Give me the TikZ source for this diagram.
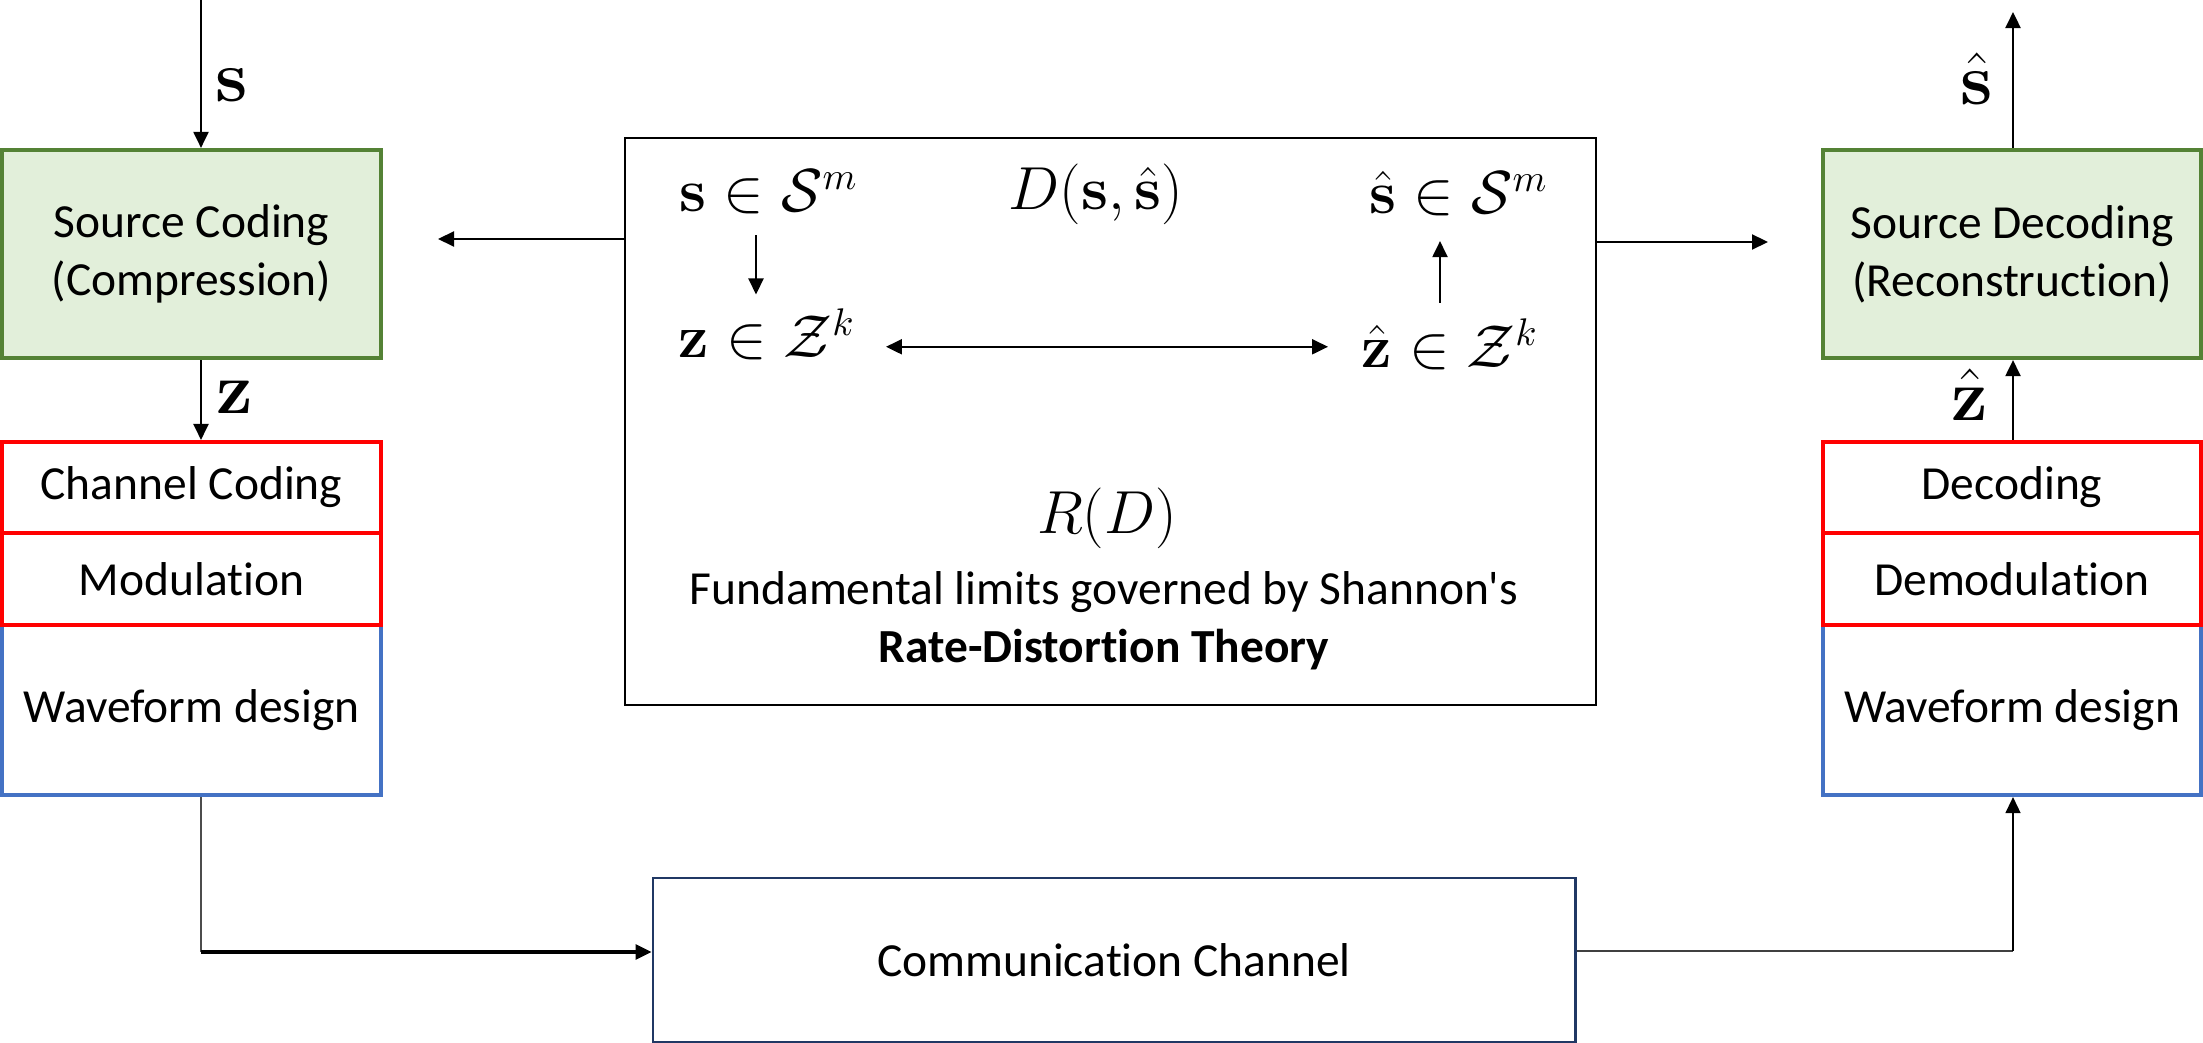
\documentclass[tikz,border=0pt]{standalone}
\usepackage[no-math]{fontspec}
\setmainfont{Carlito}[Ligatures={TeXOff,NoCommon}]
\usetikzlibrary{arrows.meta,calc}
\definecolor{grn}{HTML}{548235}
\definecolor{grnfill}{HTML}{E2EFDA}
\definecolor{redb}{HTML}{FF0000}
\definecolor{blueb}{HTML}{4472C4}
\definecolor{navy}{HTML}{203864}
\newcommand\txtfont{\fontsize{13.5}{16.5}\selectfont}
\begin{document}
\begin{tikzpicture}[x=0.01cm,y=-0.01cm,
  box/.style={draw, line width=1.15pt, inner sep=0pt, align=center, font=\txtfont, minimum width=3.79cm},
  rbox/.style={box, minimum width=3.77cm},
  mth/.style={inner sep=0pt, font=\fontsize{16}{19}\selectfont},
  lbl/.style={inner sep=0pt, font=\fontsize{20}{24}\selectfont},
  arr/.style={line width=0.6pt, -{Triangle[length=0.16cm,width=0.15cm]}},
  darr/.style={line width=0.6pt, {Triangle[length=0.16cm,width=0.15cm]}-{Triangle[length=0.16cm,width=0.15cm]}}]
\useasboundingbox (0,0) rectangle (2203,1043);

% left column
\node[box, draw=blueb, minimum height=1.70cm] (wf) at (191.5,710) {Waveform design};
\node[box, draw=grn, fill=grnfill, minimum height=2.08cm] (sc) at (191.5,254) {Source Coding\\(Compression)};
\node[box, draw=redb, minimum height=0.91cm] (cc) at (191.5,487.5) {Channel Coding};
\node[box, draw=redb, minimum height=0.92cm] (mod) at (191.5,579) {Modulation};

% right column
\node[rbox, draw=blueb, minimum height=1.70cm] (wf2) at (2012,710) {Waveform design};
\node[rbox, draw=grn, fill=grnfill, minimum height=2.08cm] (sd) at (2012,254) {Source Decoding\\(Reconstruction)};
\node[rbox, draw=redb, minimum height=0.91cm] (dec) at (2012,487.5) {Decoding};
\node[rbox, draw=redb, minimum height=0.92cm] (demod) at (2012,579) {Demodulation};

% central box
\node[draw, line width=0.6pt, minimum width=9.71cm, minimum height=5.67cm, inner sep=0pt] (cb) at (1110.5,421.5) {};
\node[mth, anchor=base] (s1) at (769,212) {$\mathbf{s}\in\mathcal{S}^m$};
\node[mth, anchor=base] (dd) at (1096,210) {$D(\mathbf{s},\hat{\mathbf{s}})$};
\node[mth, anchor=base] (s2) at (1459,214) {$\hat{\mathbf{s}}\in\mathcal{S}^m$};
\node[mth, anchor=base] (z1) at (767,358) {$\mathbf{z}\in\mathcal{Z}^k$};
\node[mth, anchor=base] (z2) at (1450,368) {$\hat{\mathbf{z}}\in\mathcal{Z}^k$};
\node[mth, anchor=base] (rd) at (1107,533) {$R(D)$};
\node[font=\txtfont, align=center] (fund) at (1104,621) {Fundamental limits governed by Shannon's\\\textbf{Rate-Distortion Theory}};
\draw[arr] ($(s1.south)+(-13,20)$) -- ($(z1.north)+(-11,-14)$);
\draw[arr] ($(z2.north)+(-10,-16)$) -- ($(s2.south)+(-19,24)$);
\draw[darr] ($(z1.east)+(30,12)$) -- ($(z2.west |- z1.east)+(-33,12)$);

% channel
\node[draw=navy, line width=0.7pt, minimum width=9.22cm, minimum height=1.64cm, font=\txtfont] (ch) at (1114,960) {Communication Channel};

% side arrows from central box
\coordinate (lt) at (438,239);
\coordinate (rt) at (1768,242);
\draw[arr] (cb.west |- lt) -- (lt);
\draw[arr] (cb.east |- rt) -- (rt);

% left flow
\coordinate (sin) at (201,0);
\draw[arr] (sin) -- (sin |- sc.north);
\draw[arr] (sin |- sc.south) -- (sin |- cc.north);
\node[lbl, anchor=base] (ls) at (232,102) {$\mathbf{s}$};
\node[lbl, anchor=base] (lz) at (235,413) {$\mathbf{z}$};
\coordinate (lc) at (201,952);
\draw[line width=0.4pt, black!70] (sin |- wf.south) -- (lc);
\draw[line width=0.9pt, -{Triangle[length=0.16cm,width=0.15cm]}] (lc) -- (lc -| ch.west);

% right flow
\coordinate (sout) at (2013,12);
\coordinate (rc) at (2013,951);
\draw[line width=0.7pt, black!75] (ch.east |- rc) -- (rc);
\draw[line width=0.4pt, -{Triangle[length=0.16cm,width=0.15cm]}] (rc) -- (rc |- wf2.south);
\draw[arr] (sout |- dec.north) -- (sout |- sd.south);
\draw[arr] (sout |- sd.north) -- (sout);
\node[lbl, anchor=base] (rs) at (1977,105) {$\hat{\mathbf{s}}$};
\node[lbl, anchor=base] (rz) at (1970,421) {$\hat{\mathbf{z}}$};
\end{tikzpicture}
\end{document}
